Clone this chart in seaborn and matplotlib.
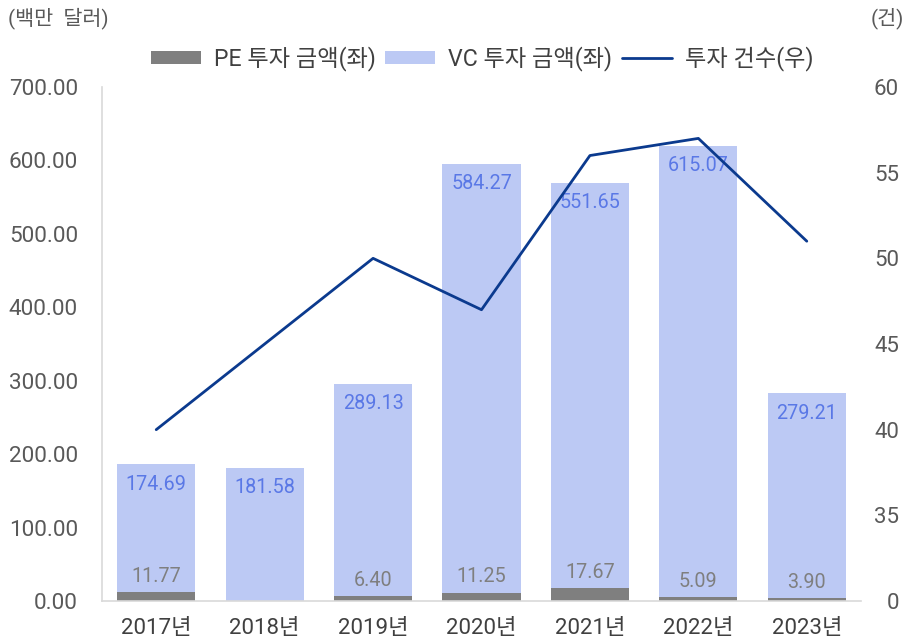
import matplotlib
matplotlib.use("Agg")
import matplotlib.pyplot as plt
import seaborn as sns
import pandas as pd
from matplotlib.patches import Patch
from matplotlib.lines import Line2D

years = ["2017년", "2018년", "2019년", "2020년", "2021년", "2022년", "2023년"]
pe_amount = [11.77, 0.0, 6.40, 11.25, 17.67, 5.09, 3.90]
vc_amount = [174.69, 181.58, 289.13, 584.27, 551.65, 615.07, 279.21]
deal_count = [40, 45, 50, 47, 56, 57, 51]
left_ticks = [0, 100, 200, 300, 400, 500, 600, 700]
right_ticks = [30, 35, 40, 45, 50, 55, 60]
right_tick_labels = ["0", "35", "40", "45", "50", "55", "60"]
series_names = ["PE 투자 금액(좌)", "VC 투자 금액(좌)", "투자 건수(우)"]

sns.set_theme(style="white")
FONT = ["Roboto", "Noto Sans CJK KR", "DejaVu Sans"]
plt.rcParams["font.family"] = FONT

PE_C = "#7f7f7f"
VC_C = "#bcc9f4"
LINE_C = "#0b3a8e"
LBL_BLUE = "#5a78e6"
TXT = "#595959"
SPINE = "#d9d9d9"
PX = 72 / 100  # points per pixel

df = pd.DataFrame({"year": years, "pe": pe_amount, "vc": vc_amount, "cnt": deal_count})
df["total"] = df["pe"] + df["vc"]

fig = plt.figure(figsize=(9.07, 6.4), dpi=100)
ax = fig.add_axes([102 / 907, 1 - 601 / 640, (861 - 102) / 907, (601 - 87) / 640])

sns.barplot(data=df, x="year", y="total", color=VC_C, saturation=1, width=0.72, ax=ax,
            order=years, linewidth=0, edgecolor="none")
sns.barplot(data=df, x="year", y="pe", color=PE_C, saturation=1, width=0.72, ax=ax,
            order=years, linewidth=0, edgecolor="none")

ax.set_ylim(0, 700)
ax.set_yticks(left_ticks)
ax.set_yticklabels([f"{v:.2f}" for v in left_ticks])
ax.set_xlabel("")
ax.set_ylabel("")
ax.tick_params(axis="y", length=0, pad=24 * PX, labelsize=16.2, labelcolor=TXT)
ax.tick_params(axis="x", length=0, pad=17 * PX, labelsize=16, labelcolor="#404040")
for s in ["top", "right"]:
    ax.spines[s].set_visible(False)
for s in ["left", "bottom"]:
    ax.spines[s].set_color(SPINE)
    ax.spines[s].set_linewidth(1.2)
ax.set_xlim(-0.5, len(years) - 0.5)

for i, (p, v, t) in enumerate(zip(pe_amount, vc_amount, df["total"])):
    ax.annotate(f"{v:.2f}", xy=(i, t), xytext=(0, -20), textcoords="offset pixels",
                ha="center", va="center", fontsize=14.2, color=LBL_BLUE)
    if p > 0:
        ax.annotate(f"{p:.2f}", xy=(i, p), xytext=(0, 16), textcoords="offset pixels",
                    ha="center", va="center", fontsize=14.2, color=PE_C)

ax2 = ax.twinx()
sns.lineplot(x=years, y=deal_count, ax=ax2, color=LINE_C, linewidth=2, sort=False)
ax2.set_ylim(30, 60)
ax2.set_yticks(right_ticks)
ax2.set_yticklabels(right_tick_labels)
ax2.tick_params(axis="y", length=0, pad=38 * PX, labelsize=16, labelcolor=TXT)
for lbl in ax2.get_yticklabels():
    lbl.set_horizontalalignment("right")
for s in ["top", "right", "left", "bottom"]:
    ax2.spines[s].set_visible(False)
ax2.set_xlim(-0.5, len(years) - 0.5)

fig.text(8 / 907, 1 - 18 / 640, "(백만  달러)", fontsize=14.9, color=TXT, ha="left", va="center")
fig.text(904 / 907, 1 - 18 / 640, "(건)", fontsize=14.9, color=TXT, ha="right", va="center")

handles = [Patch(facecolor=PE_C, edgecolor="none"),
           Patch(facecolor=VC_C, edgecolor="none"),
           Line2D([0], [0], color=LINE_C, linewidth=2)]
fig.legend(handles, series_names, loc="center", bbox_to_anchor=(482 / 907, 1 - 59 / 640),
           ncol=3, frameon=False, fontsize=16.7, labelcolor="#404040",
           handlelength=2.17, handleheight=0.52, handletextpad=0.56, columnspacing=0.4,
           borderpad=0.2)

fig.savefig("out.png", dpi=100)
